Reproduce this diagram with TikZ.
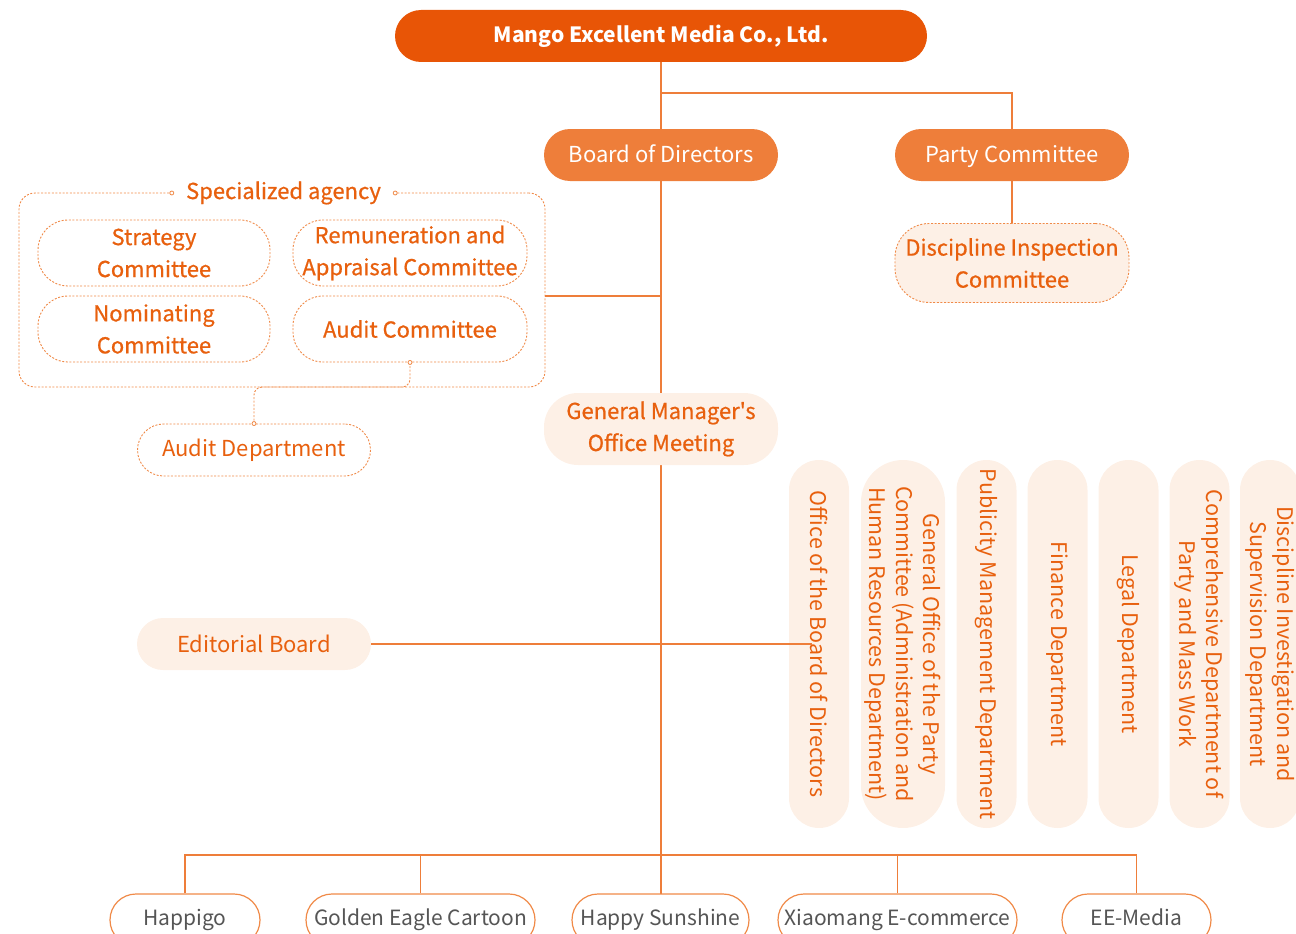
\documentclass[tikz,border=0pt]{standalone}
\usepackage{fontspec}
\setmainfont{Noto Sans CJK SC}
\newfontfamily\medfont{Noto Sans CJK SC}[FakeBold=0.7]
\definecolor{dorange}{HTML}{E85506}
\definecolor{morange}{HTML}{EE7E3A}
\definecolor{torange}{HTML}{E8600E}
\definecolor{lorange}{HTML}{F08A48}
\definecolor{cream}{HTML}{FDF0E6}
\definecolor{gtext}{HTML}{555555}
\begin{document}
\begin{tikzpicture}[x=1pt,y=-1pt,
  conn/.style={draw=morange, line width=1.2pt},
  dotline/.style={draw=lorange, line width=0.9pt, dash pattern=on 2pt off 1.6pt},
  pill/.style={rounded corners=26pt, inner sep=0pt, minimum height=52pt, align=center},
  solidpill/.style={pill, fill=morange, text=white, text height=20pt, text depth=5pt, font=\fontsize{22}{26}\selectfont},
  dashpill/.style={pill, dotline, fill=white, text=torange, font=\medfont\fontsize{22}{32}\selectfont},
  creampill/.style={pill, fill=cream, text=torange, font=\fontsize{22}{32}\selectfont},
  vpill/.style={rotate=-90, rounded corners=30pt, inner sep=0pt, minimum width=368pt, minimum height=60pt,
     fill=cream, text=torange, align=center, font=\fontsize{21.5}{27}\selectfont},
  subpill/.style={pill, draw=lorange, line width=1.2pt, fill=white, text=gtext, text height=15pt, text depth=5pt, font=\fontsize{21}{26}\selectfont},
  dotend/.style={circle, draw=lorange, fill=white, line width=0.8pt, inner sep=0pt, minimum size=4pt}
]
\useasboundingbox (0,0) rectangle (1296,934);
\begin{scope}
\clip (0,0) rectangle (1296,934);

% coordinates
\coordinate (b1) at (661,93);
\coordinate (j1) at (661,296);
\coordinate (bus) at (661,855);
\coordinate (ed) at (812,644);
\coordinate (c1) at (410,387);

% main trunk (behind nodes)
\draw[conn] (661,62) -- (661,895);
\draw[conn] (b1) -| (1012,130);
\draw[conn] (1012,181) -- (1012,224);

% top nodes
\node[pill, fill=dorange, text=white, minimum width=532pt, font=\bfseries\fontsize{21}{26}\selectfont] (title) at (661,36) {Mango Excellent Media Co., Ltd.};
\node[solidpill, minimum width=234pt] (board) at (661,155) {Board of Directors};
\node[solidpill, minimum width=234pt] (party) at (1012,155) {Party Committee};
\node[dashpill, fill=cream, minimum width=234pt, minimum height=79pt, rounded corners=34pt] (disc) at (1012,263) {Discipline Inspection\\Committee};

% specialized agency
\node[dotline, rounded corners=16pt, minimum width=526pt, minimum height=194pt, inner sep=0pt] (spec) at (282,290) {};
\node[fill=white, inner sep=0pt, minimum width=223pt, minimum height=20pt, text=torange, font=\medfont\fontsize{22}{26}\selectfont] (speclabel) at (283.5,193) {Specialized agency};
\node[dotend] at (speclabel.west) {};
\node[dotend] at (speclabel.east) {};
\draw[conn] (spec.east |- j1) -- (j1);

\node[dashpill, minimum width=232pt, minimum height=66pt, rounded corners=30pt] (strat) at (154,253) {Strategy\\Committee};
\node[dashpill, minimum width=234pt, minimum height=66pt, rounded corners=30pt] (remun) at (410,253) {Remuneration and\\Appraisal Committee};
\node[dashpill, minimum width=232pt, minimum height=66pt, rounded corners=30pt] (nomin) at (154,329) {Nominating\\Committee};
\node[dashpill, minimum width=234pt, minimum height=66pt, rounded corners=30pt] (audit) at (410,329) {Audit Committee};

\node[dashpill, font=\fontsize{22}{26}\selectfont, minimum width=233pt] (auditdept) at (254,450) {Audit Department};
\draw[dotline, rounded corners=8pt] (audit.south) -- (c1) -| (auditdept.north);
\node[dotend] at (audit.south) {};
\node[dotend] at (auditdept.north) {};

% GM meeting
\node[creampill, font=\medfont\fontsize{22}{32}\selectfont, minimum width=234pt, minimum height=72pt, rounded corners=34pt] (gm) at (661,429) {General Manager's\\Office Meeting};

% editorial board
\node[creampill, minimum width=234pt] (edit) at (254,644) {Editorial Board};

% vertical departments
\node[vpill] (d1) at (819,644) {Office of the Board of Directors};
\node[vpill, minimum height=84pt, rounded corners=42pt] (d2) at (903,644) {General Office of the Party\\Committee (Administration and\\Human Resources Department)};
\node[vpill] (d3) at (986.5,644) {Publicity Management Department};
\node[vpill] (d4) at (1057.5,644) {Finance Department};
\node[vpill] (d5) at (1128.5,644) {Legal Department};
\node[vpill] (d6) at (1199.5,644) {Comprehensive Department of\\Party and Mass Work};
\node[vpill] (d7) at (1270,644) {Discipline Investigation and\\Supervision Department};

\draw[conn] (edit.east) -- (ed);

% subsidiaries
\node[subpill, minimum width=150pt] (s1) at (185,920) {Happigo};
\node[subpill, minimum width=229pt] (s2) at (420.5,920) {Golden Eagle Cartoon};
\node[subpill, minimum width=177pt] (s3) at (660.5,920) {Happy Sunshine};
\node[subpill, minimum width=239pt] (s4) at (897.5,920) {Xiaomang E-commerce};
\node[subpill, minimum width=149pt] (s5) at (1136.5,920) {EE-Media};

\draw[conn] (s1.north) -- (s1.north |- bus) -- (s5.north |- bus) -- (s5.north);
\draw[conn] (s2.north) -- (s2.north |- bus);
\draw[conn] (s4.north) -- (s4.north |- bus);
\end{scope}
\end{tikzpicture}
\end{document}
